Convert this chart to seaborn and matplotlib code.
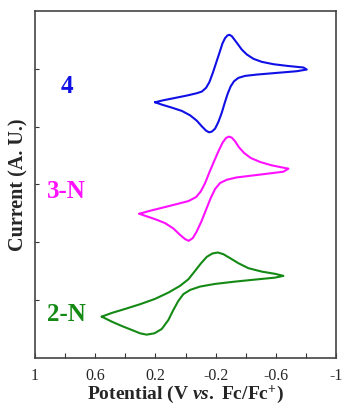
import numpy as np
import pandas as pd
import seaborn as sns
import matplotlib
matplotlib.use("Agg")
import matplotlib.pyplot as plt
from matplotlib.ticker import MultipleLocator, FixedLocator, NullFormatter

# cyclic voltammograms (potential in V vs Fc/Fc+, current in arbitrary offset units)
pot_4 = [0.203, 0.147, 0.081, -0.008, -0.074, -0.108, -0.136, -0.158, -0.181, -0.203,
         -0.225, -0.245, -0.262, -0.278, -0.291, -0.307, -0.324, -0.347, -0.373, -0.407,
         -0.451, -0.506, -0.584, -0.672, -0.783, -0.805,
         -0.739, -0.606, -0.473, -0.395, -0.351, -0.322, -0.300, -0.280, -0.260, -0.240,
         -0.218, -0.196, -0.174, -0.156, -0.136, -0.108, -0.074, -0.030, 0.025, 0.092,
         0.158, 0.203]
cur_4 = [4.421, 4.456, 4.490, 4.537, 4.577, 4.606, 4.670, 4.768, 4.929, 5.103,
         5.276, 5.437, 5.529, 5.576, 5.588, 5.564, 5.506, 5.426, 5.333, 5.247,
         5.172, 5.120, 5.079, 5.051, 5.022, 4.987,
         4.958, 4.929, 4.900, 4.877, 4.843, 4.785, 4.698, 4.571, 4.410, 4.237,
         4.081, 3.965, 3.913, 3.902, 3.931, 4.005, 4.104, 4.196, 4.272, 4.329,
         4.381, 4.421]

pot_3n = [0.307, 0.236, 0.147, 0.058, -0.019, -0.070, -0.101, -0.130, -0.158, -0.189,
          -0.221, -0.247, -0.269, -0.287, -0.307, -0.329, -0.355, -0.389, -0.433, -0.495,
          -0.573, -0.683,
          -0.650, -0.561, -0.451, -0.340, -0.274, -0.229, -0.196, -0.167, -0.136, -0.105,
          -0.074, -0.048, -0.021, 0.003, 0.037, 0.081, 0.136, 0.203, 0.269, 0.307]
cur_3n = [2.494, 2.545, 2.603, 2.661, 2.713, 2.782, 2.880, 3.025, 3.209, 3.399,
          3.590, 3.728, 3.804, 3.827, 3.810, 3.746, 3.642, 3.544, 3.458, 3.389,
          3.330, 3.273,
          3.221, 3.192, 3.157, 3.122, 3.082, 3.025, 2.921, 2.765, 2.563, 2.360,
          2.187, 2.073, 2.026, 2.055, 2.130, 2.239, 2.332, 2.401, 2.459, 2.494]

pot_2n = [0.557, 0.490, 0.402, 0.302, 0.203, 0.114, 0.037, -0.019, -0.063, -0.103,
          -0.141, -0.178, -0.214, -0.251, -0.296, -0.351, -0.417, -0.506, -0.595, -0.650,
          -0.595, -0.462, -0.329, -0.196, -0.096, -0.030, 0.015, 0.048, 0.081, 0.114,
          0.158, 0.207, 0.258, 0.302, 0.357, 0.424, 0.490, 0.535, 0.557]
cur_2n = [0.715, 0.779, 0.848, 0.930, 1.022, 1.131, 1.247, 1.362, 1.506, 1.639,
          1.749, 1.807, 1.824, 1.795, 1.726, 1.639, 1.553, 1.494, 1.455, 1.420,
          1.390, 1.356, 1.321, 1.281, 1.235, 1.177, 1.103, 0.987, 0.831, 0.658,
          0.502, 0.427, 0.404, 0.427, 0.485, 0.554, 0.629, 0.687, 0.715]

names = ["4", "3-N", "2-N"]
colors = ["#1010e6", "#ff10ff", "#148a14"]

sns.set_style("ticks")
plt.rcParams["font.family"] = ["Liberation Serif", "DejaVu Serif"]
plt.rcParams["mathtext.fontset"] = "custom"
plt.rcParams["mathtext.rm"] = "Liberation Serif:bold"
plt.rcParams["mathtext.it"] = "Liberation Serif:bold:italic"

fig = plt.figure(figsize=(3.43, 4.05), dpi=100)
ax = fig.add_axes([0.102, 0.116, 0.878, 0.857])

curves = [(pot_4, cur_4), (pot_3n, cur_3n), (pot_2n, cur_2n)]
for (p, c), name, col in zip(curves, names, colors):
    df = pd.DataFrame({"E": p, "I": c})
    sns.lineplot(data=df, x="E", y="I", sort=False, estimator=None, color=col, lw=1.5, ax=ax)

# sample labels
label_y = [4.69, 2.87, 0.76]
for name, col, y in zip(names, colors, label_y):
    ax.text(0.79, y, name, color=col, fontsize=18, fontweight="bold", ha="center", va="center")

ax.set_xlim(1, -1)
ax.set_ylim(0, 6)
ax.xaxis.set_major_locator(FixedLocator([1, 0.6, 0.2, -0.2, -0.6, -1]))
ax.xaxis.set_minor_locator(MultipleLocator(0.2))
ax.set_xticklabels(["1", "0.6", "0.2", "-0.2", "-0.6", "-1"])
ax.yaxis.set_major_locator(FixedLocator([1, 2, 3, 4, 5]))
ax.yaxis.set_major_formatter(NullFormatter())
ax.tick_params(axis="x", which="both", direction="in", length=3.5, width=0.8, color="#333333",
               labelsize=11.5, pad=7, top=False)
ax.tick_params(axis="y", which="both", direction="in", length=3, width=0.8, color="#333333",
               right=False)
for s in ax.spines.values():
    s.set_color("#444444")
    s.set_linewidth(1.2)

ax.set_xlabel(r"Potential (V $\mathit{vs.}$ Fc/Fc$^{\mathrm{+}}$)", fontsize=14, fontweight="bold")
ax.set_ylabel("Current (A. U.)", fontsize=14.5, fontweight="bold")
ax.xaxis.set_label_coords(0.5, -0.072)
ax.yaxis.set_label_coords(-0.022, 0.5)

fig.savefig("out.png", dpi=100)
